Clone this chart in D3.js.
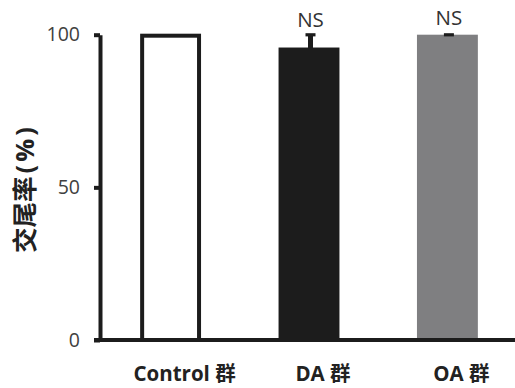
<!DOCTYPE html>
<html>
<head>
<meta charset="utf-8">
<script src="https://cdn.jsdelivr.net/npm/d3@7"></script>
<style>
  html, body { margin: 0; padding: 0; background: #fff; }
  svg { display: block; }
  text { font-family: "Open Sans", "Noto Sans CJK SC", sans-serif; }
</style>
</head>
<body>
<svg id="chart" width="515" height="388"></svg>
<script>
// Mating rate per group (mean ± error), with significance marks
const groups   = ["Control 群", "DA 群", "OA 群"];
const means    = [100, 95.8, 100];
const errors   = [0, 4.2, 0];
const sigMarks = ["", "NS", "NS"];
const yTicks   = [0, 50, 100];
const yTitleMain = "交尾率";
const yTitleUnit = "(%)";

const fills   = ["#ffffff", "#1c1c1c", "#7f7f81"];
const strokes = ["#1c1c1c", "none", "none"];

const W = 515, H = 388;
const svg = d3.select("#chart");

const y = d3.scaleLinear().domain([0, 100]).range([340, 34.7]);
const x = d3.scaleBand().domain(groups).range([100, 518])
  .paddingInner(0.56).paddingOuter(0.29);

const data = groups.map((g, i) => ({
  g, mean: means[i], err: errors[i], sig: sigMarks[i],
  fill: fills[i], stroke: strokes[i]
}));

// Bars: filled ones span to the baseline, the open one is drawn as an outline
const bars = svg.append("g");
bars.selectAll("rect").data(data).join("rect")
  .attr("x", d => d.stroke === "none" ? x(d.g) : x(d.g) + 2)
  .attr("width", d => d.stroke === "none" ? x.bandwidth() : x.bandwidth() - 4)
  .attr("y", d => d.stroke === "none" ? y(d.mean) : y(d.mean) + 1)
  .attr("height", d => d.stroke === "none" ? y(0) - y(d.mean) : y(0) - y(d.mean) - 1)
  .attr("fill", d => d.fill)
  .attr("stroke", d => d.stroke)
  .attr("stroke-width", 4);

// Error bars (upper half only)
const eb = svg.append("g").attr("fill", "#1c1c1c");
eb.selectAll("rect.stem").data(data.filter(d => d.err > 0)).join("rect")
  .attr("class", "stem")
  .attr("x", d => x(d.g) + x.bandwidth() / 2 - 2.5 + 1.5)
  .attr("width", 5)
  .attr("y", d => y(d.mean + d.err))
  .attr("height", d => y(d.mean) - y(d.mean + d.err) + 1);
eb.selectAll("rect.cap").data(data.filter(d => d.sig)).join("rect")
  .attr("class", "cap")
  .attr("x", d => x(d.g) + x.bandwidth() / 2 - 5 + 1.5)
  .attr("width", 10)
  .attr("y", d => y(d.mean + d.err) - 1.5)
  .attr("height", 3.2);

// Significance labels
svg.append("g").selectAll("text").data(data.filter(d => d.sig)).join("text")
  .attr("x", d => x(d.g) + x.bandwidth() / 2 + 1.5)
  .attr("y", (d, i) => 26.5 - i * 1.5)
  .attr("text-anchor", "middle")
  .attr("font-size", 20.5)
  .attr("fill", "#333")
  .text(d => d.sig);

// Y axis
const yAxis = svg.append("g").attr("transform", "translate(100,0)")
  .call(d3.axisLeft(y).tickValues(yTicks).tickSize(6).tickSizeOuter(0).tickPadding(14));
yAxis.select(".domain").attr("stroke", "#1c1c1c").attr("stroke-width", 4);
yAxis.selectAll(".tick line").attr("stroke", "#1c1c1c").attr("stroke-width", 4);
yAxis.selectAll(".tick text")
  .attr("font-family", "'Open Sans', sans-serif")
  .attr("font-size", 19.5).attr("fill", "#404040");

// X axis baseline and group labels
const xAxis = svg.append("g").attr("transform", "translate(0,340)")
  .call(d3.axisBottom(x).tickSize(0).tickPadding(26));
xAxis.select(".domain").attr("d", `M94,0H${W}`)
  .attr("stroke", "#1c1c1c").attr("stroke-width", 4);
xAxis.selectAll(".tick text")
  .attr("dx", 14)
  .attr("font-family", "'Open Sans', 'Noto Sans CJK SC', sans-serif")
  .attr("font-weight", "bold")
  .attr("font-size", 20.5)
  .attr("fill", "#222");

// Y axis title
const title = svg.append("text")
  .attr("transform", "translate(33.5,188.5) rotate(-90)")
  .attr("text-anchor", "middle")
  .attr("font-family", "'Noto Sans CJK SC', sans-serif")
  .attr("font-weight", "bold")
  .attr("font-size", 25.5)
  .attr("fill", "#222");
title.append("tspan").text(yTitleMain);
title.append("tspan").attr("dx", 3).attr("letter-spacing", 3).text(yTitleUnit);
</script>
</body>
</html>
